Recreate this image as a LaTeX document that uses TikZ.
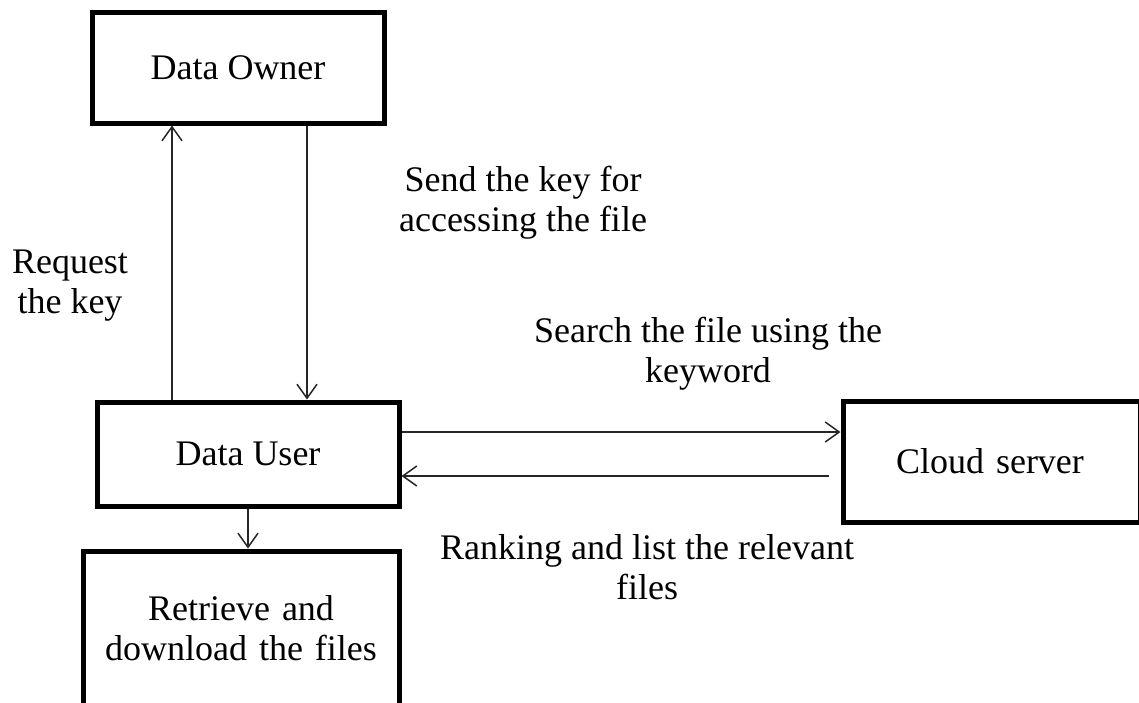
\documentclass[tikz,border=0pt]{standalone}
\usepackage{fontspec}
\setmainfont{Liberation Serif}
\usetikzlibrary{arrows.meta}

\begin{document}
\begin{tikzpicture}[x=1pt, y=-1pt,
		every node/.style={font=\fontsize{36}{40}\selectfont},
		box/.style={draw, line width=5pt, align=center},
		lbl/.style={align=center},
		flow/.style={-{Straight Barb[length=14pt,width=20pt]}, line width=1.5pt, black!85}]
		\useasboundingbox (0,0) rectangle (1139,702);
		\clip (0,0) rectangle (1139,702);
		
		\node[box, minimum width=292pt, minimum height=111pt] (owner) at (238,67.5) {Data Owner};
		\node[box, minimum width=302pt, minimum height=104pt] (user) at (248,454) {Data User};
		\node[box, anchor=west, align=left, text width=191.5pt, inner xsep=53pt, minimum height=121pt] (cloud) at (840.5,461.5) {Cloud server};
		\node[box, anchor=north, minimum width=316pt, text width=300pt, inner ysep=45pt, text depth=150pt] (retrieve) at (241,548.5) {Retrieve and\\download the files};
		
		\node[lbl] (reqlbl) at (70,286) {Request\\the key};
		\node[lbl] (sendlbl) at (523,203) {Send the key for\\accessing the file};
		\node[lbl] (searchlbl) at (708,354) {Search the file using the\\keyword};
		\node[lbl] (ranklbl) at (647,567) {Ranking and list the relevant\\files};
		
		\coordinate (reqx) at (172,0);
		\coordinate (sendx) at (307,0);
		\coordinate (searchy) at (0,432);
		\coordinate (ranky) at (0,476);
		
		\draw[flow] (user.north -| reqx) -- (owner.south -| reqx);
		\draw[flow] (owner.south -| sendx) -- (user.north -| sendx);
		\draw[flow] (user.east |- searchy) -- (cloud.west |- searchy);
		\draw[flow] ([xshift=-12pt]cloud.west |- ranky) -- (user.east |- ranky);
		\draw[flow] (user.south) -- (retrieve.north -| user.south);
		
		\end{tikzpicture}
\end{document}
